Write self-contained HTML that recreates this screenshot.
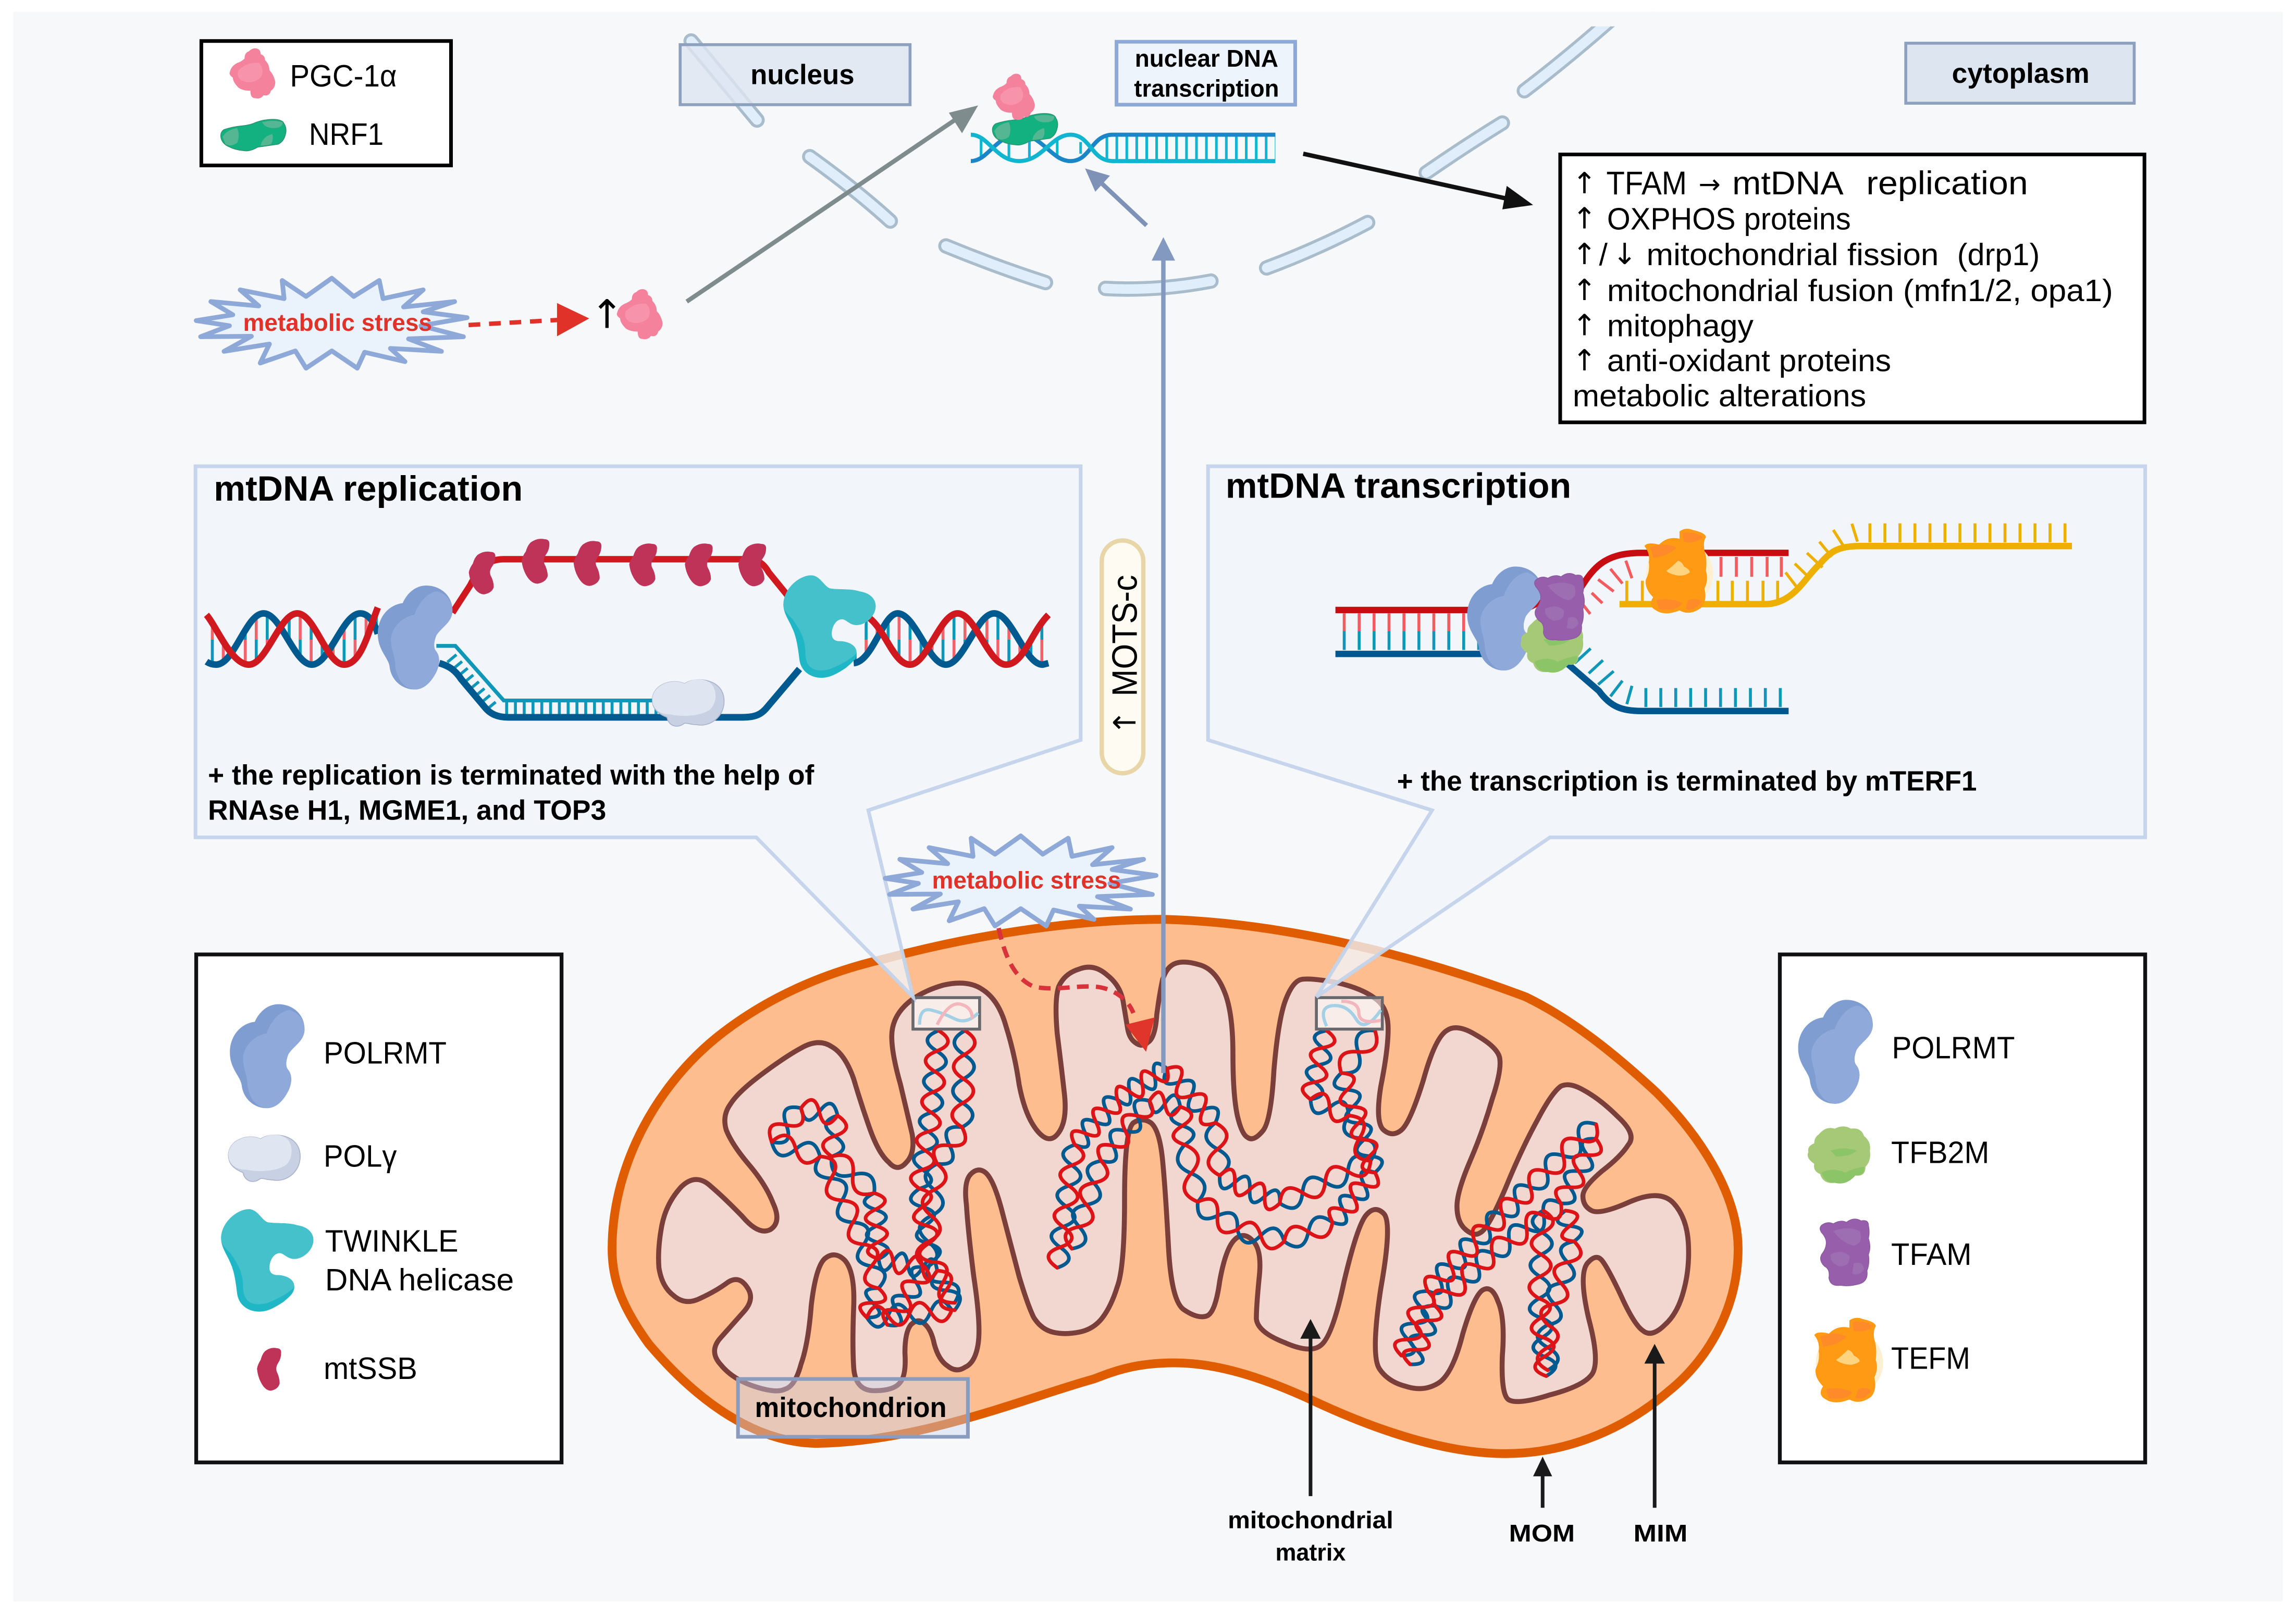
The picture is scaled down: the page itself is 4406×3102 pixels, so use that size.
<!DOCTYPE html>
<html lang="en">
<head>
<meta charset="utf-8">
<title>Mitochondrial DNA replication and transcription</title>
<style>
html,body{margin:0;padding:0;background:#fff}
svg{display:block}
text{font-family:"Liberation Sans",sans-serif;fill:#000}
.b{font-weight:bold}
.m{text-anchor:middle}
.lg{font-size:21px}
.info{font-size:21px}
.ar{font-family:"DejaVu Sans",sans-serif;text-anchor:middle}
.dna{fill:none;stroke-width:2.5;stroke-linejoin:round;stroke-linecap:round}
.blue{stroke:#00598f}
.red{stroke:#dc1418}
</style>
</head>
<body>
<svg xmlns="http://www.w3.org/2000/svg" width="4406" height="3102" viewBox="0 0 1568 1103.9">
<defs>
<clipPath id="hl"><path clip-rule="evenodd" d="M141 452Q144 454 147.6 454C160 454 168 419 180 419C192 419 201 454 213 454C225 454 234 419 246 419C252 419 256 426 258 433L258 415C252 430 247 454 235 454C223 454 215 419 203 419C191 419 182 454 170 454C158 454 148 428 141 420Z"/></clipPath>
<clipPath id="hr"><path clip-rule="evenodd" d="M583 453C596 452 603 419 613 419C625 419 634 454 646 454C658 454 667 419 679 419C691 419 700 454 712 454L716 453L716 420C704 432 699 454 687 454C675 454 666 419 654 419C642 419 633 454 621.5 454C610 454 604 428 592 421Z"/></clipPath>
<g id="polrmt"><path fill="#7f9dd0" d="M-25 -2C-25 -14 -17 -22 -8 -23C-5 -30 1 -35 8 -35C18 -35 26 -28 26 -18C26 -10 19 -7 15 -1C13 4 13 8 15 10C18 14 17 20 15 24C11 32 6 36 0 36C-8 36 -16 30 -17 20C-18 14 -25 9 -25 -2Z"/><path fill="#8fa9db" d="M-16 2C-16 -6 -8 -14 0 -15C3 -24 10 -31 16 -31C22 -29 26 -24 26 -18C26 -10 19 -7 15 -1C13 4 13 8 15 10C18 14 17 20 15 24C11 32 6 36 0 36C-8 35 -12 28 -13 20C-13 14 -16 9 -16 2Z"/></g>
<g id="polg"><path fill="#c7d1e3" stroke="#aab3cc" stroke-width=".6" d="M-25 -2C-25 -12 -12 -17 -3 -13C4 -18 24 -17 24 -1C24 10 14 17 5 15C1 15 0 14 -3 14C-8 18 -14 16 -15 10C-20 8 -25 5 -25 -2Z"/><path fill="#e0e5f2" d="M-25 -2C-25 -12 -12 -17 -3 -13C3 -17 12 -17 16 -12C20 -6 18 2 14 5C8 9 -4 10 -13 8C-19 8 -25 5 -25 -2Z"/></g>
<g id="twinkle"><path fill="#1fb6c6" d="M-31 -15C-31 -26 -20 -35 -12 -35C-6 -35 -3 -27 1 -26C8 -25 15 -26 21 -24C28 -23 32 -19 32 -14C32 -7 25 -1 19 -1C14 -1 12 -5 9 -5C5 -5 2 0 2 5C2 9 5 10 7 10C12 10 19 12 19 18C19 23 14 26 12 28C6 32 1 35 -5 35C-13 35 -19 30 -20 23C-21 15 -22 7 -25 1C-27 -4 -31 -9 -31 -15Z"/><path fill="#45c1cb" d="M-31 -15C-31 -26 -20 -35 -12 -35C-6 -35 -3 -27 1 -26C8 -25 15 -26 21 -24C28 -23 32 -19 32 -14C32 -7 25 -1 19 -1C14 -1 12 -5 9 -5C5 -5 2 0 2 5C2 9 5 10 7 10C12 10 19 12 19 18C16 22 8 26 1 29C-10 32 -16 28 -16 18C-16 8 -20 2 -24 -4C-27 -8 -31 -10 -31 -15Z"/></g>
<path id="ssb" fill="#bf3358" d="M-8.500 0Q-8 -3 -6 -6Q-5 -10 -3 -12Q1 -15 5 -14Q8 -14 8 -11Q8 -7 6 -4Q4 -1 5 2Q7 6 7 10Q6 14 1 15Q-3 15 -6 9Q-8 5 -8.500 0Z"/>
<g id="pgc"><path fill="#f5829d" d="M2 -17Q6 -17 6 -13Q9 -12 9 -9Q12 -6 12 -2Q15 1 16 6Q16 10 13 12Q12 16 8 15Q6 18 2 17Q-1 17 -1 12Q-6 12 -9 10Q-13 6 -13 3Q-16 1 -15 -1Q-14 -5 -10 -7Q-7 -8 -5 -10Q-5 -14 -2 -15Q0 -17 2 -17Z"/><path fill="#f793aa" d="M-9 -2Q-3 -8 5 -7Q9 -2 6 3Q0 8 -7 5Q-11 2 -9 -2Z"/></g>
<g id="nrf"><path fill="#13b080" stroke="#2e8f6c" stroke-width=".5" d="M-22 2Q-23 -2 -20 -4Q-14 -6 -8 -6.500Q-2 -7 2 -9Q8 -11 13 -11Q20 -11 21 -8Q23 -5 22 -1Q21 4 17 6Q10 7 3 8Q-2 11 -6 10.500Q-12 10 -16 8Q-21 6 -22 2Z"/><path fill="#55b694" d="M-21 1Q-18 -4 -11 -5Q-9 0 -11 5Q-15 8 -19 6ZM6 -9Q13 -11 20 -9Q20 -5 14 -5Q8 -5 6 -9ZM5 7Q6 1 13 -1Q14 3 12 6Q9 7 5 7Z"/></g>
<g id="tfam"><path fill="#975fab" stroke="#8b58a0" stroke-width=".5" d="M-16 -18Q-12 -21 -8 -19Q-3 -22 1 -20Q6 -24 11 -21Q16 -22 16 -18Q17 -13 16 -9Q18 -3 16 2Q17 8 15 13Q16 20 10 22Q3 24 -3 23Q-10 24 -11 18Q-10 12 -14 10Q-18 6 -16 2Q-12 -3 -13 -8Q-14 -11 -16 -13Q-18 -16 -16 -18Z"/><path fill="#9e6eb3" d="M-8 -14Q2 -18 10 -14Q13 -6 6 -4Q-2 -6 -8 -14ZM-10 2Q-2 -2 3 3Q4 10 -4 10Q-10 8 -10 2ZM6 8Q12 6 13 12Q10 17 5 15Z"/></g>
<g id="tfb"><path fill="#a6c977" d="M-14 -14Q-9 -20 -3 -18Q3 -21 8 -18Q15 -19 17 -13Q22 -9 21 -3Q22 4 18 8Q18 15 11 14Q5 21 -3 19Q-11 20 -13 13Q-18 11 -17 6Q-23 2 -21 -2Q-22 -6 -17 -8Q-17 -12 -14 -14Z"/><path fill="#8cc468" d="M-12 12Q-4 8 4 12Q10 9 17 8Q18 14 11 14Q5 21 -3 19Q-10 19 -12 12ZM-6 -3Q4 -6 12 -3Q8 1 -2 1Z"/></g>
<g id="tefm"><circle cx="2" cy="2" r="23" fill="#fdf0d0"/><path fill="#ff9a14" d="M2 -27Q6 -30 11 -28Q20 -26 20 -23Q18 -20 19 -14Q21 -8 20 0Q22 6 19 12Q21 20 17 25Q9 31 2 27Q-8 31 -14 27Q-20 24 -16 18Q-22 12 -21 6Q-18 0 -19 -6Q-18 -12 -22 -17Q-20 -20 -12 -18Q-6 -24 2 -22Z"/><path fill="#ff8a2a" d="M-18 -16Q-8 -20 0 -16Q-6 -10 -16 -9ZM4 -26Q14 -27 18 -23Q12 -18 5 -20ZM-14 20Q-4 18 4 22Q0 28 -12 26ZM8 20Q14 18 17 21Q12 28 6 26Z"/><path fill="#ffd480" d="M1 -7Q4 -6 5 -3Q9 -1 9 1Q5 4 0 3Q-5 2 -7 0Q-3 -3 1 -7Z"/></g>
</defs>

<rect width="1568" height="1103.9" fill="#fff"/>
<rect x="9" y="8" width="1550" height="1086" fill="#f6f8fa"/>

<!-- nuclear envelope -->
<g fill="none" stroke-linecap="round">
<g stroke="#a9bccb" stroke-width="10.5">
<path d="M472 28L517 82"/>
<path d="M553 107Q585 130 608 151"/>
<path d="M646 168Q680 182 714 193"/>
<path d="M755 197Q790 199 827 192"/>
<path d="M865 183Q900 170 934 152"/>
<path d="M974 118Q1000 100 1026 84"/>
<path d="M1041 62Q1070 40 1104 10"/>
</g>
<g stroke="#e0eefb" stroke-width="6.5">
<path d="M472 28L517 82"/>
<path d="M553 107Q585 130 608 151"/>
<path d="M646 168Q680 182 714 193"/>
<path d="M755 197Q790 199 827 192"/>
<path d="M865 183Q900 170 934 152"/>
<path d="M974 118Q1000 100 1026 84"/>
<path d="M1041 62Q1070 40 1104 10"/>
</g>
</g>
<rect x="1060" y="0" width="70" height="18" fill="#f6f8fa"/>
<rect x="1060" y="0" width="70" height="8" fill="#fff"/>

<!-- top labels -->
<rect x="464.5" y="30.5" width="157" height="41" fill="#dde5f0" fill-opacity=".82" stroke="#8da0bd" stroke-width="2"/>
<text x="548" y="57.5" class="b m" font-size="19" textLength="71" lengthAdjust="spacingAndGlyphs">nucleus</text>
<rect x="762.5" y="28.5" width="122" height="43" fill="#eef4fb" stroke="#8ea9d8" stroke-width="2.5"/>
<text x="824" y="45.5" class="b m" font-size="16.5" textLength="98" lengthAdjust="spacingAndGlyphs">nuclear DNA</text>
<text x="824" y="66" class="b m" font-size="16.5" textLength="99" lengthAdjust="spacingAndGlyphs">transcription</text>
<rect x="1301.5" y="29.5" width="156" height="41" fill="#dde5f0" stroke="#8da0bd" stroke-width="2"/>
<text x="1380" y="56.5" class="b m" font-size="19" textLength="94" lengthAdjust="spacingAndGlyphs">cytoplasm</text>

<!-- top-left legend -->
<rect x="137.5" y="28" width="170.5" height="85" fill="#fff" stroke="#000" stroke-width="2.5"/>
<use href="#pgc" x="172" y="50"/>
<use href="#nrf" x="173" y="92.5"/>
<text x="198" y="59" font-size="21" textLength="73" lengthAdjust="spacingAndGlyphs">PGC-1α</text>
<text x="211" y="99" font-size="21" textLength="51" lengthAdjust="spacingAndGlyphs">NRF1</text>

<!-- nuclear DNA -->
<g fill="none">
<path stroke="#12b5d0" stroke-width="18" stroke-dasharray="1.8 5" d="M755 101H871"/>
<path stroke="#12b5d0" stroke-width="1.8" d="M670 95V107M689 95V108M703 94V108M722 96V106M738 97V105"/>
<path stroke="#1a86c8" stroke-width="2.8" d="M663 110C675 110 680 92 696 92C712 92 718 110 731 110C745 110 745 92 760 92H871"/>
<path stroke="#12b5d0" stroke-width="2.8" d="M663 92C675 92 680 110 696 110C712 110 718 92 731 92C745 92 745 110 760 110H871"/>
</g>
<use href="#nrf" x="700" y="88.5"/>
<use href="#pgc" transform="translate(692 66) scale(.92)"/>

<!-- metabolic stress 1 -->
<polygon fill="#eaf3fc" stroke="#8ea9d8" stroke-width="3.2" stroke-linejoin="round" points="226.6,190 241.6,202.5 259,191.6 261.6,204 289,198 275.6,209.7 310.5,206 289,213 319,217 287.5,222.5 316.5,230 279,231.5 301.5,240 266.6,238 276.6,247 249,240.6 244,251.5 226.6,239.7 209,251.5 201.7,239.7 177.7,248 184,235 153,240 171.7,229.7 137,230 156.7,222.5 134,219 159,215 144,206 176.7,209 164,198 194,204 192.7,191.6 209,202.5"/>
<text x="230.5" y="226" class="b m" font-size="16.5" style="fill:#e03228" textLength="129" lengthAdjust="spacingAndGlyphs">metabolic stress</text>
<path d="M320 222L382 218.5" stroke="#e03228" stroke-width="3" stroke-dasharray="8 6" fill="none"/>
<polygon points="380.4,207 402.4,217.5 380.4,229.7" fill="#e03228"/>
<text x="414.5" y="224" class="ar" font-size="27">↑</text>
<use href="#pgc" x="436.5" y="214.5"/>

<!-- gray arrow -->
<path d="M469 206L655 80" stroke="#7f8c8d" stroke-width="3" fill="none"/>
<polygon points="668,72 648,77 657,91" fill="#7f8c8d"/>
<!-- small blue arrow -->
<path d="M783 154L750 123" stroke="#7e92b8" stroke-width="3" fill="none"/>
<polygon points="741,115 748,131 758,120" fill="#7e92b8"/>
<!-- black arrow -->
<path d="M890 105L1035 137" stroke="#111" stroke-width="3" fill="none"/>
<polygon points="1047,140 1029,127 1026,143" fill="#111"/>

<!-- info box -->
<rect x="1065.5" y="105.5" width="399" height="183" fill="#fff" stroke="#000" stroke-width="2.5"/>
<g class="info">
<text x="1082" y="132" class="ar" font-size="20">↑</text>
<text x="1097" y="132.7" font-size="22.5" textLength="55" lengthAdjust="spacingAndGlyphs">TFAM</text>
<text x="1167.5" y="132" class="ar" font-size="18">→</text>
<text x="1183" y="132.7" font-size="22.5" textLength="76" lengthAdjust="spacingAndGlyphs">mtDNA</text>
<text x="1274.5" y="132.7" font-size="22.5" textLength="110.5" lengthAdjust="spacingAndGlyphs">replication</text>
<text x="1082" y="156" class="ar" font-size="20">↑</text>
<text x="1097.5" y="156.7" font-size="21" textLength="166.5" lengthAdjust="spacingAndGlyphs">OXPHOS proteins</text>
<text x="1082" y="180.5" class="ar" font-size="20">↑</text>
<text x="1092" y="181.2" font-size="21">/</text>
<text x="1109.5" y="180.5" class="ar" font-size="20">↓</text>
<text x="1124.4" y="181.2" font-size="21" textLength="199.6" lengthAdjust="spacingAndGlyphs">mitochondrial fission</text>
<text x="1336.6" y="181.2" font-size="21" textLength="56.4" lengthAdjust="spacingAndGlyphs">(drp1)</text>
<text x="1082" y="205" class="ar" font-size="20">↑</text>
<text x="1097.5" y="205.7" font-size="21" textLength="345.5" lengthAdjust="spacingAndGlyphs">mitochondrial fusion (mfn1/2, opa1)</text>
<text x="1082" y="229" class="ar" font-size="20">↑</text>
<text x="1097.5" y="229.7" font-size="21" textLength="100" lengthAdjust="spacingAndGlyphs">mitophagy</text>
<text x="1082" y="253" class="ar" font-size="20">↑</text>
<text x="1097.5" y="253.6" font-size="21" textLength="194" lengthAdjust="spacingAndGlyphs">anti-oxidant proteins</text>
<text x="1074" y="277.5" font-size="21" textLength="200.5" lengthAdjust="spacingAndGlyphs">metabolic alterations</text>
</g>

<!-- mitochondrion -->
<path fill="#fdbd8f" stroke="#e05c00" stroke-width="6" d="M418 853C418 800 445 745 489 709C525 680 565 664 604 655C660 640 730 628 795 628C870 630 960 650 1042 681C1075 697 1105 722 1131 746C1160 775 1187 815 1187 853C1187 895 1165 930 1140 950C1105 980 1065 993 1028 993C985 993 935 975 895 956C860 940 830 931 802 931C775 931 760 937 747 942C700 955 630 985 557 986C510 985 470 950 443 918C425 893 418 875 418 853Z"/>
<path fill="#f2d7d0" stroke="#7b3f3b" stroke-width="3.4" stroke-linejoin="round" d="M492 932Q484 923 492 914Q500 905 508 896Q516 887 510 879Q504.5 871 497 876Q489 882 478 887Q468 892 460 885Q452 879 450 866Q449 853 452 837Q455 822 465 811Q475 801 485 810Q495.5 819 507 831Q518 844 526 840Q534 835 528 822Q523 809 511 795Q500 782 496 772Q493 762 499 754Q504 746 520 734Q536 722 547 716Q559 709 568 715Q577 720 583 737Q588 754 594 771Q600 788 607 794Q613 801 619 794Q625 788 623 775Q620 762 615 741Q609 720 609 708Q609 696 618 687Q627 678 644 673Q661 669 671 676Q682 683 687 701Q693 720 696 741Q700 762 708 772Q716 782 722 775Q729 767 727 748Q725 730 722 706Q720 683 723 674Q727 665 737 662Q747 658 756 666Q765 673 767 684Q769 696 770 702Q771 709 775 712Q780 716 784 712Q789 709 790 693Q792 678 794 669Q797 660 803 658Q809 656 819 659Q830 662 836 677Q842 691 842 720Q842 748 845 762Q848 775 852 777Q856 780 862 773Q868 767 870 731Q873 696 878 683Q883 670 889 669Q895 668 912 671Q930 675 939 682Q948 688 948 703Q948 717 943 742Q939 767 945 772Q951 777 957 772Q963 767 972 738Q980 709 988 704Q995 699 1008 707Q1022 715 1024 722Q1026 730 1019 751Q1013 772 1004 793Q995 814 995 824Q995 835 1001 840Q1007 845 1011 842Q1016 840 1028 812Q1039 785 1050 765Q1060 746 1066 742Q1072 739 1082 745Q1093 751 1105 763Q1118 775 1112 782Q1107 790 1094 800Q1081 811 1081 817Q1081 824 1087 827Q1093 830 1113 821Q1134 812 1143 822Q1152 832 1153 849Q1154 866 1150 881Q1146 897 1137 905Q1128 914 1122 909Q1116 905 1107 885Q1098 866 1094 861Q1090 856 1084 863Q1078 871 1085 901Q1093 931 1087 939Q1081 947 1058 953Q1036 960 1030 956Q1025 952 1026 926Q1028 900 1023 889Q1019 878 1013 881Q1007 884 999 911Q992 939 982 945Q972 951 960 947Q948 944 942 935Q936 926 943 880Q951 835 945 829Q939 823 933 830Q927 837 918 875Q910 913 902 919Q895 925 877 917Q859 910 858 901Q858 892 860 872Q862 853 855 847Q849 841 843 847Q837 853 833 875Q830 897 824 899Q818 901 809 895Q800 890 798 852Q796 814 794 793Q792 772 786 767Q780 763 774 767Q768 772 768 819Q768 866 763 879Q759 892 753 900Q747 908 737 910Q727 912 719 910Q711 908 706 900Q702 892 696 872Q691 853 685 830Q679 806 673 801Q668 797 663 802Q658 807 660 823Q661 840 665 872Q670 905 668 918Q666 931 659 934Q653 938 647 933Q641 929 638 918Q636 908 631 904Q627 900 622 905Q618 910 618 924Q619 939 615 944Q611 950 597 950Q584 950 583 934Q582 918 583 893Q584 869 577 861Q570 854 563 860Q557 866 554 892Q552 918 547 932Q543 947 536 949Q530 952 515 947Q500 942 492 932Z"/>

<!-- mtDNA strands -->
<g class="dna blue">
<path d="M641 704q-14.6 5.7 -1.25 14t-1.25 14 -1.25 14 -1.25 14q-14.9 4.4 -2 13t-2 13 -2 13 -2 13q-12.9 8.45 2 12.5t2 12.5 2 12.5 2 12.5q-8.2 14 8 14t8 14"/>
<path d="M659 704q-14.25 7.85 -.5 16.5t-.5 16.5 -.5 16.5 -.5 16.5q-15.85 -1.75 -8.5 12.5t-8.5 12.5q-14.9 7.4 -2 17.75t-2 17.75 -2 17.75 -2 17.75q-14.85 -2.8 -6.5 9.75t-6.5 9.75 -6.5 9.75 -6.5 9.75"/>
<path d="M527 780q15.5 3.45 10 -11.5t10 -11.5q3.45 14.95 12.5 2.5t12.5 2.5q-14.9 5 -2 14t-2 14q-1.85 16.85 14.5 12.5t14.5 12.5q-13.6 6.6 .75 11.25t.75 11.25 .75 11.25 .75 11.25q2.2 14.7 10 2t10 2 10 2 10 2q-9.7 12.45 6 13.5t6 13.5"/>
<path d="M527 780q4.15 15.9 16.5 5t16.5 5q-8.75 13.8 7.5 15t7.5 15 7.5 15 7.5 15q-10.8 12 5 15t5 15q-15 -.2 -4 10t-4 10q8.55 13.4 14.5 -1.25t14.5 -1.25 14.5 -1.25 14.5 -1.25"/>
<path d="M722 866q14.9 -5 2 -14t2 -14 2 -14 2 -14 2 -14 2 -14q13.8 5.6 7.25 -7.75t7.25 -7.75 7.25 -7.75 7.25 -7.75q11.65 9.3 8.5 -5.25t8.5 -5.25 8.5 -5.25 8.5 -5.25q-6.4 14 8.25 9.25t8.25 9.25 8.25 9.25 8.25 9.25q-13.25 10.1 1.5 18t1.5 18q-.8 15.1 10.25 4.75t10.25 4.75 10.25 4.75 10.25 4.75q13.75 9.1 15.5 -7.25t15.5 -7.25 15.5 -7.25 15.5 -7.25q8.85 -13.95 -7.5 -15.5t-7.5 -15.5q-1 -15.65 -13 -5.5t-13 -5.5q15 -2.7 2.75 -11.75t2.75 -11.75 2.75 -11.75 2.75 -11.75"/>
<path d="M732 853q15.8 -3 5 -15t5 -15 5 -15 5 -15q15 3.7 8.25 -10.25t8.25 -10.25 8.25 -10.25 8.25 -10.25q2.55 14.7 10.5 2t10.5 2q-13.15 8.1 1.5 13t1.5 13q-11.35 12.85 4.5 19.5t4.5 19.5q-1.25 16.25 13.5 9.5t13.5 9.5q4.6 15.6 16 4t16 4q13.45 9.75 16.5 -6.5t16.5 -6.5q14.2 4.85 7.25 -8.5t7.25 -8.5 7.25 -8.5 7.25 -8.5q11.4 -10.1 -3.75 -11.25t-3.75 -11.25 -3.75 -11.25 -3.75 -11.25q11.2 -10.35 -4 -11.5t-4 -11.5q16.65 1.45 11.5 -14.5t11.5 -14.5"/>
<path d="M1090 768q-15.3 -4.7 -11.25 10.75t-11.25 10.75 -11.25 10.75 -11.25 10.75q-14.4 -5.5 -9.5 9.25t-9.5 9.25 -9.5 9.25 -9.5 9.25q-14.2 -5.45 -8 8.5t-8 8.5 -8 8.5 -8 8.5q-15.25 .2 -4.5 11t-4.5 11 -4.5 11 -4.5 11"/>
<path d="M1090 778q-15.3 -1.2 -6 11t-6 11 -6 11 -6 11q-14.2 -7.05 -11.75 8.5t-11.75 8.5 -11.75 8.5 -11.75 8.5q-14.4 -5.7 -9.75 9t-9.75 9 -9.75 9 -9.75 9q-15 -.5 -4.25 10t-4.25 10 -4.25 10 -4.25 10"/>
<path d="M1054 827q-14.4 6.8 -.75 15t-.75 15 -.75 15 -.75 15q-13.4 7.9 1.25 13.25t1.25 13.25 1.25 13.25 1.25 13.25"/>
<path d="M1069 827q-11.9 9.05 3 10.5t3 10.5q-15.55 2.9 -4.5 14.25t-4.5 14.25 -4.5 14.25 -4.5 14.25q-14 7.75 0 15.5t0 15.5"/>
</g>
<g class="dna red">
<path d="M641 704q13.4 8.3 -1.25 14t-1.25 14 -1.25 14 -1.25 14q12.9 8.6 -2 13t-2 13 -2 13 -2 13q14.9 4 2 12.5t2 12.5 2 12.5 2 12.5q16.2 0 8 14t8 14"/>
<path d="M659 704q13.75 8.65 -.5 16.5t-.5 16.5 -.5 16.5 -.5 16.5q7.35 14.25 -8.5 12.5t-8.5 12.5q12.9 10.4 -2 17.75t-2 17.75 -2 17.75 -2 17.75q8.35 12.6 -6.5 9.75t-6.5 9.75 -6.5 9.75 -6.5 9.75"/>
<path d="M527 780q-5.5 -14.95 10 -11.5t10 -11.5q9.05 -12.45 12.5 2.5t12.5 2.5q12.9 9 -2 14t-2 14q16.35 -4.35 14.5 12.5t14.5 12.5q14.4 4.6 .75 11.25t.75 11.25 .75 11.25 .75 11.25q7.8 -12.7 10 2t10 2 10 2 10 2q15.7 1.05 6 13.5t6 13.5"/>
<path d="M527 780q12.35 -10.9 16.5 5t16.5 5q16.25 1.2 7.5 15t7.5 15 7.5 15 7.5 15q15.8 3 5 15t5 15q11 10.2 -4 10t-4 10q5.95 -14.6 14.5 -1.25t14.5 -1.25 14.5 -1.25 14.5 -1.25"/>
<path d="M722 866q-12.9 -9 2 -14t2 -14 2 -14 2 -14 2 -14 2 -14q-6.6 -13.4 7.25 -7.75t7.25 -7.75 7.25 -7.75 7.25 -7.75q-3.15 -14.5 8.5 -5.25t8.5 -5.25 8.5 -5.25 8.5 -5.25q14.6 -4.8 8.25 9.25t8.25 9.25 8.25 9.25 8.25 9.25q14.75 7.9 1.5 18t1.5 18q11 -10.3 10.25 4.75t10.25 4.75 10.25 4.75 10.25 4.75q1.75 -16.3 15.5 -7.25t15.5 -7.25 15.5 -7.25 15.5 -7.25q-16.35 -1.55 -7.5 -15.5t-7.5 -15.5q-12 10.15 -13 -5.5t-13 -5.5q-12.2 -9.1 2.75 -11.75t2.75 -11.75 2.75 -11.75 2.75 -11.75"/>
<path d="M732 853q-10.8 -12 5 -15t5 -15 5 -15 5 -15q-6.8 -13.9 8.25 -10.25t8.25 -10.25 8.25 -10.25 8.25 -10.25q7.95 -12.7 10.5 2t10.5 2q14.65 4.9 1.5 13t1.5 13q15.85 6.65 4.5 19.5t4.5 19.5q14.75 -6.75 13.5 9.5t13.5 9.5q11.4 -11.6 16 4t16 4q3.05 -16.25 16.5 -6.5t16.5 -6.5q-7 -13.35 7.25 -8.5t7.25 -8.5 7.25 -8.5 7.25 -8.5q-15.2 -1.1 -3.75 -11.25t-3.75 -11.25 -3.75 -11.25 -3.75 -11.25q-15.2 -1.15 -4 -11.5t-4 -11.5q-5.15 -15.95 11.5 -14.5t11.5 -14.5"/>
<path d="M1090 768q4.1 15.5 -11.25 10.75t-11.25 10.75 -11.25 10.75 -11.25 10.75q4.95 14.7 -9.5 9.25t-9.5 9.25 -9.5 9.25 -9.5 9.25q6.2 13.95 -8 8.5t-8 8.5 -8 8.5 -8 8.5q10.75 10.8 -4.5 11t-4.5 11 -4.5 11 -4.5 11"/>
<path d="M1090 778q9.3 12.2 -6 11t-6 11 -6 11 -6 11q2.4 15.55 -11.75 8.5t-11.75 8.5 -11.75 8.5 -11.75 8.5q4.6 14.7 -9.75 9t-9.75 9 -9.75 9 -9.75 9q10.8 10.5 -4.25 10t-4.25 10 -4.25 10 -4.25 10"/>
<path d="M1054 827q13.6 8.2 -.75 15t-.75 15 -.75 15 -.75 15q14.6 5.3 1.25 13.25t1.25 13.25 1.25 13.25 1.25 13.25"/>
<path d="M1069 827q14.9 1.45 3 10.5t3 10.5q11.05 11.3 -4.5 14.25t-4.5 14.25 -4.5 14.25 -4.5 14.25q14 7.75 0 15.5t0 15.5"/>
</g>

<!-- small selection boxes -->
<rect x="623.5" y="681.5" width="45.5" height="21.5" fill="#fff" fill-opacity=".55" stroke="#68686c" stroke-width="2"/>
<path d="M628 700Q628 688 636 690T652 696T668 692" fill="none" stroke="#a4d0e6" stroke-width="2.2"/>
<path d="M640 700Q648 684 656 686T664 696" fill="none" stroke="#f3b6bd" stroke-width="2.2"/>
<rect x="899" y="681.5" width="45" height="21.5" fill="#fff" fill-opacity=".55" stroke="#68686c" stroke-width="2"/>
<path d="M906 701Q900 688 910 687T926 696T943 690" fill="none" stroke="#a4d0e6" stroke-width="2.2"/>
<path d="M916 684Q928 684 928 692T943 697" fill="none" stroke="#f3b6bd" stroke-width="2.2"/>

<!-- callout panels -->
<polygon points="133.5,318.5 738,318.5 738,505.5 593,553.5 623.5,681 516.5,572 133.5,572" fill="#f1f5fb" fill-opacity=".78" stroke="#c3d3ea" stroke-width="2.5" stroke-opacity=".95"/>
<polygon points="825,318.5 1465,318.5 1465,572 1058.5,572 899,681 978,553.5 825,505.5" fill="#f1f5fb" fill-opacity=".78" stroke="#c3d3ea" stroke-width="2.5" stroke-opacity=".95"/>

<text x="146" y="342" class="b" font-size="24" textLength="211" lengthAdjust="spacingAndGlyphs">mtDNA replication</text>
<text x="837" y="340" class="b" font-size="24" textLength="236" lengthAdjust="spacingAndGlyphs">mtDNA transcription</text>
<text x="142" y="536" class="b" font-size="19" textLength="414" lengthAdjust="spacingAndGlyphs">+ the replication is terminated with the help of</text>
<text x="142" y="560" class="b" font-size="19" textLength="272" lengthAdjust="spacingAndGlyphs">RNAse H1, MGME1, and TOP3</text>
<text x="954" y="540" class="b" font-size="19" textLength="396" lengthAdjust="spacingAndGlyphs">+ the transcription is terminated by mTERF1</text>

<!-- replication artwork -->
<g fill="none">
<g clip-path="url(#hl)">
<path stroke="#f0636a" stroke-width="18" stroke-dasharray="2 13" d="M144 428H258"/>
<path stroke="#0e97b8" stroke-width="18" stroke-dasharray="2 13" stroke-dashoffset="7.5" d="M144 428H258"/>
<path stroke="#0e97b8" stroke-width="18" stroke-dasharray="2 13" d="M144 446H258"/>
<path stroke="#f0636a" stroke-width="18" stroke-dasharray="2 13" stroke-dashoffset="7.5" d="M144 446H258"/>
</g>
<g clip-path="url(#hr)">
<path stroke="#f0636a" stroke-width="18" stroke-dasharray="2 13" d="M583 428H716"/>
<path stroke="#0e97b8" stroke-width="18" stroke-dasharray="2 13" stroke-dashoffset="7.5" d="M583 428H716"/>
<path stroke="#0e97b8" stroke-width="18" stroke-dasharray="2 13" d="M583 446H716"/>
<path stroke="#f0636a" stroke-width="18" stroke-dasharray="2 13" stroke-dashoffset="7.5" d="M583 446H716"/>
</g>
<path stroke="#0e97b8" stroke-width="9" stroke-dasharray="2 4" d="M345 484H449"/>
<path stroke="#0e97b8" stroke-width="8" stroke-dasharray="2 4" d="M308 449L337 484"/>
<path stroke="#0e97b8" stroke-width="2.6" d="M298 441.2H311L344 478.5H449"/>
<path stroke="#00598f" stroke-width="4.5" d="M141 452Q144 454 147.6 454C160 454 168 419 180 419C192 419 201 454 213 454C225 454 234 419 246 419C252 419 256 426 258 433"/>
<path stroke="#d0181f" stroke-width="4.5" d="M141 420C148 428 158 454 170 454C182 454 191 419 203 419C215 419 223 454 235 454C247 454 252 430 258 415"/>
<path stroke="#00598f" stroke-width="4.5" d="M583 453C596 452 603 419 613 419C625 419 634 454 646 454C658 454 667 419 679 419C691 419 700 454 712 454L716 453"/>
<path stroke="#d0181f" stroke-width="4.5" d="M592 421C604 428 610 454 621.5 454C633 454 642 419 654 419C666 419 675 454 687 454C699 454 704 432 716 420"/>
<path stroke="#d0181f" stroke-width="4.4" d="M309 418.5L321 400C327 388 333 382 344 382H508C517 382 521 384 525 391L538 407"/>
<path stroke="#00598f" stroke-width="4.6" d="M300 453C307 455 311 458 315 464L331 483C335 488 340 490 347 490H507C516 490 520 488 524 483L546 457"/>
</g>
<use href="#polrmt" x="283" y="435"/>
<use href="#polg" x="470.5" y="480"/>
<use href="#twinkle" x="566" y="428"/>
<use href="#ssb" transform="translate(329.5 391) scale(1.1 1)"/>
<use href="#ssb" transform="translate(366 383) scale(1.15 1.05)"/>
<use href="#ssb" transform="translate(401.5 384.5) scale(1.15 1.05)"/>
<use href="#ssb" transform="translate(439.5 385.5) scale(1.15 1)"/>
<use href="#ssb" transform="translate(477.5 385.5) scale(1.15 1)"/>
<use href="#ssb" transform="translate(514 385.5) scale(1.15 1)"/>

<!-- transcription artwork -->
<g fill="none">
<path stroke="#f25b5f" stroke-width="12" stroke-dasharray="2 8.2" d="M917 425H1005"/>
<path stroke="#0f97b8" stroke-width="13" stroke-dasharray="2 8.2" d="M917 437.5H1020"/>
<path stroke="#c80d12" stroke-width="4.4" d="M912 416.7H1003M1040 417L1048 413L1078 404C1088 388 1095 378 1120 377.7H1221.5"/>
<path stroke="#00568e" stroke-width="4.4" d="M912 446.7H1030M1070 453L1092 472C1100 483 1108 485.7 1121 485.7H1221.5"/>
<path stroke="#f25b5f" stroke-width="2" d="M1110.3 383L1114.5 395M1099.8 388.6L1108 398.6M1091.4 395.8L1102 404M1087 405L1094.3 412M1081 413L1086 419.4M1175.3 380.4V394M1185.8 380.4V394M1196.3 380.4V394M1206.8 380.4V394M1216.5 380.4V394"/>
<path stroke="#0f97b8" stroke-width="2" d="M1086.3 443L1075.4 453M1094.7 451L1085 460M1102 458.5L1091.4 467.6M1108 465L1099.8 475.7M1114.5 468.5L1111 481"/>
<path stroke="#0f97b8" stroke-width="13" stroke-dasharray="2 8.2" d="M1123 476.5H1218"/>
<path stroke="#edb000" stroke-width="2" d="M1111 396.7V410.5M1121.6 396.7V410.5M1173.2 396.7V410.5M1183 396.7V410.5M1193.4 396.7V410.5M1204 396.7V410.5M1214 396.7V410.5M1219.4 391L1227.8 402M1225.7 385L1236 395M1234 377.7L1244.6 387.6M1242.5 370L1251 380.4M1252 362L1259 373M1264.7 357.7L1268.5 370"/>
<path stroke="#edb000" stroke-width="13" stroke-dasharray="2 8.25" d="M1276 364H1413"/>
<path stroke="#edb000" stroke-width="4.4" d="M1106 412.7H1205C1225 412.7 1232 395 1243 385C1250 377 1255 373 1270 373H1415"/>
</g>
<use href="#polrmt" x="1027" y="422"/>
<use href="#tfb" x="1060" y="440"/>
<use href="#tfam" x="1065" y="414"/>
<use href="#tefm" x="1145" y="390"/>

<!-- MOTS-c -->
<rect x="752.4" y="369.2" width="28.4" height="159" rx="14.2" ry="14.2" fill="#fdfbf2" stroke="#e8d6a8" stroke-width="3"/>
<text transform="translate(775.5 493.5) rotate(-90)" class="ar" font-size="21">↑</text>
<text transform="translate(776.4 475.7) rotate(-90)" font-size="24" textLength="83" lengthAdjust="spacingAndGlyphs">MOTS-c</text>

<!-- long arrow -->
<path d="M794.5 733V176" stroke="#8499bf" stroke-width="3" fill="none"/>
<polygon points="794.5,162 786.5,178 802.5,178" fill="#8499bf"/>

<!-- metabolic stress 2 -->
<g transform="translate(470.5 381)">
<polygon fill="#eaf3fc" stroke="#8ea9d8" stroke-width="3.2" stroke-linejoin="round" points="226.6,190 241.6,202.5 259,191.6 261.6,204 289,198 275.6,209.7 310.5,206 289,213 319,217 287.5,222.5 316.5,230 279,231.5 301.5,240 266.6,238 276.6,247 249,240.6 244,251.5 226.6,239.7 209,251.5 201.7,239.7 177.7,248 184,235 153,240 171.7,229.7 137,230 156.7,222.5 134,219 159,215 144,206 176.7,209 164,198 194,204 192.7,191.6 209,202.5"/>
</g>
<text x="701" y="607" class="b m" font-size="16.5" style="fill:#e03228" textLength="129" lengthAdjust="spacingAndGlyphs">metabolic stress</text>
<path d="M682 634C686 652 692 668 706 674C720 677 735 673 748 674C760 675 770 682 774 692" fill="none" stroke="#d8333a" stroke-width="3" stroke-dasharray="8 5"/>
<polygon points="768.5,700 788.6,695 782.7,718.5" fill="#e0352b"/>

<!-- mitochondrion label -->
<rect x="504" y="942" width="157" height="39.5" fill="#c8d7f0" fill-opacity=".42" stroke="#8a9bbd" stroke-width="2.5"/>
<text x="581" y="968" class="b m" font-size="19" textLength="131" lengthAdjust="spacingAndGlyphs">mitochondrion</text>

<!-- bottom arrows -->
<g stroke="#1a1a1a" stroke-width="2.5" fill="none">
<path d="M895 1022V912M1130 1030V929M1053.5 1030V1006"/>
</g>
<polygon points="895,901 888,914.5 902,914.5" fill="#1a1a1a"/>
<polygon points="1130,918 1123,931.5 1137,931.5" fill="#1a1a1a"/>
<polygon points="1053.5,995 1047,1008.5 1060,1008.5" fill="#1a1a1a"/>
<text x="895" y="1044" class="b m" font-size="16.5" textLength="113" lengthAdjust="spacingAndGlyphs">mitochondrial</text>
<text x="895" y="1066" class="b m" font-size="16.5" textLength="48" lengthAdjust="spacingAndGlyphs">matrix</text>
<text x="1053" y="1053" class="b m" font-size="16.5" textLength="45" lengthAdjust="spacingAndGlyphs">MOM</text>
<text x="1134" y="1053" class="b m" font-size="16.5" textLength="37" lengthAdjust="spacingAndGlyphs">MIM</text>

<!-- bottom-left legend -->
<rect x="134" y="652" width="249.5" height="347" fill="#fff" stroke="#111" stroke-width="2.6"/>
<use href="#polrmt" x="182" y="721"/>
<use href="#polg" x="181" y="791"/>
<use href="#twinkle" x="182" y="861"/>
<use href="#ssb" x="184" y="935"/>
<text x="221" y="726.5" class="lg" textLength="84" lengthAdjust="spacingAndGlyphs">POLRMT</text>
<text x="221" y="797" class="lg" textLength="50" lengthAdjust="spacingAndGlyphs">POLγ</text>
<text x="222" y="855" class="lg" textLength="91" lengthAdjust="spacingAndGlyphs">TWINKLE</text>
<text x="222" y="881.5" class="lg" textLength="129" lengthAdjust="spacingAndGlyphs">DNA helicase</text>
<text x="221" y="942" class="lg" textLength="64" lengthAdjust="spacingAndGlyphs">mtSSB</text>

<!-- bottom-right legend -->
<rect x="1215.5" y="652" width="249.5" height="347" fill="#fff" stroke="#111" stroke-width="2.6"/>
<use href="#polrmt" x="1253" y="718"/>
<use href="#tfb" x="1256" y="789"/>
<use href="#tfam" x="1260" y="855"/>
<use href="#tefm" x="1261" y="929"/>
<text x="1292" y="723" class="lg" textLength="84" lengthAdjust="spacingAndGlyphs">POLRMT</text>
<text x="1291.5" y="794.5" class="lg" textLength="67" lengthAdjust="spacingAndGlyphs">TFB2M</text>
<text x="1291.5" y="864" class="lg" textLength="55" lengthAdjust="spacingAndGlyphs">TFAM</text>
<text x="1291.5" y="935" class="lg" textLength="54" lengthAdjust="spacingAndGlyphs">TEFM</text>
</svg>
</body>
</html>
